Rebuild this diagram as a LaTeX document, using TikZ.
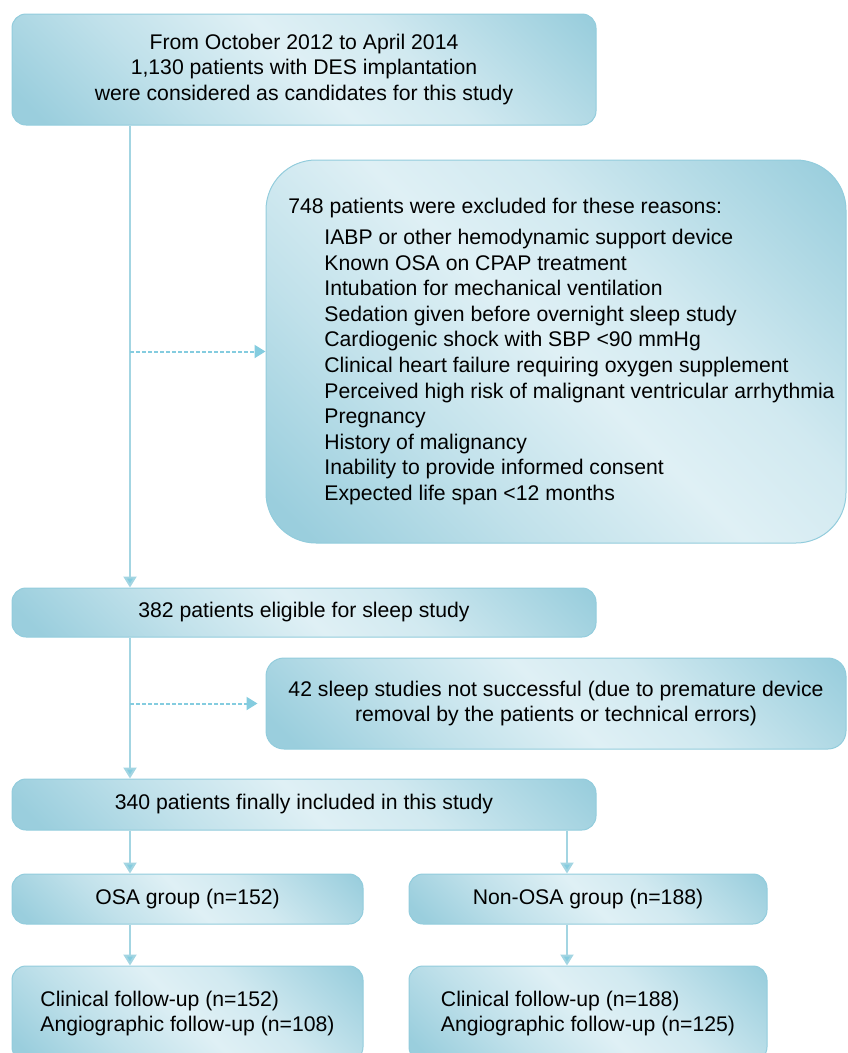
\documentclass[tikz,border=0pt]{standalone}
\usepackage{fontspec}
\setmainfont{Liberation Sans}
\usetikzlibrary{arrows.meta}
\definecolor{boxdark}{HTML}{9ACEDD}
\definecolor{boxlight}{HTML}{DFF0F5}
\definecolor{boxline}{HTML}{92CCDC}
\definecolor{flowline}{HTML}{A3D5E2}
\definecolor{sideline}{HTML}{84CCDF}
\pgfdeclarehorizontalshading{sheen}{100bp}{color(0bp)=(boxdark); color(18bp)=(boxdark); color(34bp)=(boxlight!55!boxdark); color(50bp)=(boxlight); color(62bp)=(boxlight!80!boxdark); color(84bp)=(boxdark); color(100bp)=(boxdark)}
\tikzset{
	stage/.style={draw=boxline, line width=1pt, rounded corners=14pt, shading=sheen, shading angle=45, inner sep=0pt, align=center, font=\fontsize{21.2pt}{25.6pt}\selectfont},
	flow/.style={draw=flowline, line width=2pt, -{Triangle[length=11pt,width=13pt,fill=sideline]}},
	side/.style={draw=sideline, line width=2pt, dash pattern=on 3.5pt off 2.5pt, -{Triangle[length=11pt,width=13pt,fill=sideline]}}
}
\newcommand{\Reason}[1]{\hspace*{47pt}#1}

\begin{document}
\begin{tikzpicture}[x=1pt,y=-1pt]
	\useasboundingbox (0,0) rectangle (847,1053);
	\coordinate (spineL) at (130,0);
	\coordinate (spineR) at (567,0);

	\node[stage, minimum width=584pt, minimum height=111pt] (cand) at (304,69.5) {From October 2012 to April 2014\\1,130 patients with DES implantation\\were considered as candidates for this study};
	\node[stage, minimum width=580pt, minimum height=383pt, rounded corners=50pt, align=left] (excl) at (556,351.5) {\hspace*{11pt}748 patients were excluded for these reasons:\\[5.5pt]
		\Reason{IABP or other hemodynamic support device}\\
		\Reason{Known OSA on CPAP treatment}\\
		\Reason{Intubation for mechanical ventilation}\\
		\Reason{Sedation given before overnight sleep study}\\
		\Reason{Cardiogenic shock with SBP <90 mmHg}\\
		\Reason{Clinical heart failure requiring oxygen supplement}\\
		\Reason{Perceived high risk of malignant ventricular arrhythmia}\\
		\Reason{Pregnancy}\\
		\Reason{History of malignancy}\\
		\Reason{Inability to provide informed consent}\\
		\Reason{Expected life span <12 months}};
	\node[stage, minimum width=584pt, minimum height=49pt] (elig) at (304,612.5) {382 patients eligible for sleep study};
	\node[stage, minimum width=580pt, minimum height=91pt, rounded corners=18pt] (fail) at (556,703.5) {42 sleep studies not successful (due to premature device\\removal by the patients or technical errors)};
	\node[stage, minimum width=584pt, minimum height=51pt] (incl) at (304,804.5) {340 patients finally included in this study};
	\node[stage, minimum width=351pt, minimum height=50pt] (osa) at (187.5,899) {OSA group (n=152)};
	\node[stage, minimum width=358pt, minimum height=50pt] (nonosa) at (588,899) {Non-OSA group (n=188)};
	\node[stage, minimum width=351pt, minimum height=95pt, align=left] (fuosa) at (187.5,1013.5) {Clinical follow-up (n=152)\\Angiographic follow-up (n=108)};
	\node[stage, minimum width=358pt, minimum height=95pt, align=left] (funon) at (588,1013.5) {Clinical follow-up (n=188)\\Angiographic follow-up (n=125)};

	\draw[flow] (spineL |- cand.south) -- (spineL |- elig.north);
	\draw[side] (spineL |- excl.west) -- (excl.west);
	\draw[flow] (spineL |- elig.south) -- (spineL |- incl.north);
	\draw[side, shorten >=8pt] (spineL |- fail.west) -- (fail.west);
	\draw[flow] (spineL |- incl.south) -- (spineL |- osa.north);
	\draw[flow] (spineR |- incl.south) -- (spineR |- nonosa.north);
	\draw[flow] (spineL |- osa.south) -- (spineL |- fuosa.north);
	\draw[flow] (spineR |- nonosa.south) -- (spineR |- funon.north);

\end{tikzpicture}
\end{document}
